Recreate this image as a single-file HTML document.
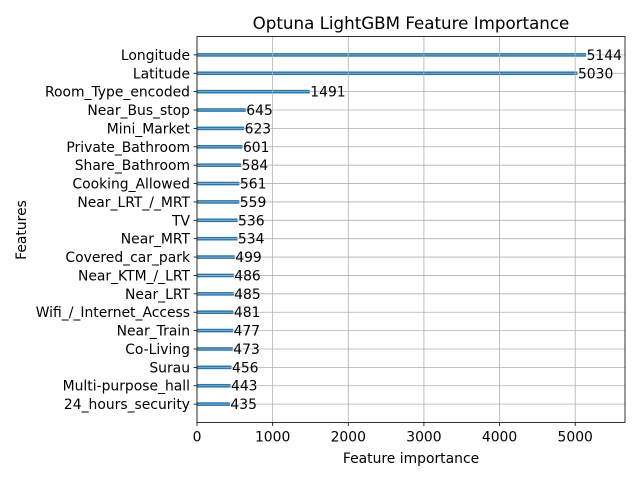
<!DOCTYPE html>
<html><head><meta charset="utf-8"><style>
body{margin:0;background:#fff;}
svg{font-family:"DejaVu Sans","Liberation Sans",sans-serif;}
</style></head><body>
<svg id="chart" width="640" height="480" xmlns="http://www.w3.org/2000/svg"></svg>
<script>
const features=["Longitude","Latitude","Room_Type_encoded","Near_Bus_stop","Mini_Market","Private_Bathroom","Share_Bathroom","Cooking_Allowed","Near_LRT_/_MRT","TV","Near_MRT","Covered_car_park","Near_KTM_/_LRT","Near_LRT","Wifi_/_Internet_Access","Near_Train","Co-Living","Surau","Multi-purpose_hall","24_hours_security"];
const importance=[5144,5030,1491,645,623,601,584,561,559,536,534,499,486,485,481,477,473,456,443,435];
const xTicks=[0,1000,2000,3000,4000,5000];
const NS="http://www.w3.org/2000/svg";
const svg=document.getElementById('chart');
const L=197,R=625,T=36.5,B=422.5;
const xmax=Math.max(...importance)*1.1;
const x=v=>L+v/xmax*(R-L);
const n=features.length;
const y=i=>T+(i+1)/(n+1)*(B-T);
const FS=13.9;
function mk(tag,attrs,text){const e=document.createElementNS(NS,tag);for(const k in attrs)e.setAttribute(k,attrs[k]);if(text!==undefined)e.textContent=text;svg.appendChild(e);return e;}
importance.forEach((v,i)=>{
 const r=mk('rect',{x:L,y:y(i)-1.8,width:x(v)-L,height:3.6,fill:'#1f77b4'});
 
 
});
xTicks.forEach(t=>{const g=mk('line',{x1:x(t),x2:x(t),y1:T,y2:B,stroke:'#b0b0b0','stroke-width':0.8});
 
 });
features.forEach((f,i)=>{const g=mk('line',{x1:L,x2:R,y1:y(i),y2:y(i),stroke:'#b0b0b0','stroke-width':0.8});
 
 });
importance.forEach((v,i)=>{const t=mk('text',{x:x(v)+0.5,y:y(i)+5,'font-size':FS,fill:'#000'},String(v));
 
 });
const sp=mk('rect',{x:L,y:T,width:R-L,height:B-T,fill:'none',stroke:'#000','stroke-width':0.8});


features.forEach((f,i)=>{
 mk('line',{x1:L-3.5,x2:L,y1:y(i),y2:y(i),stroke:'#000','stroke-width':0.8});
 const t=mk('text',{x:L-7,y:y(i)+5,'font-size':FS,'text-anchor':'end'},f);
 
 
});
xTicks.forEach(v=>{
 mk('line',{x1:x(v),x2:x(v),y1:B,y2:B+3.5,stroke:'#000','stroke-width':0.8});
 const t=mk('text',{x:x(v),y:B+19,'font-size':FS,'text-anchor':'middle'},String(v));
 
 
});
</script>
<div style="position:absolute;left:0;top:0;width:640px;height:480px;pointer-events:none">
<svg width="640" height="480" style="font-family:'DejaVu Sans','Liberation Sans',sans-serif">
<text x="411" y="29" font-size="16.7" text-anchor="middle">Optuna LightGBM Feature Importance</text>
<text x="411" y="463" font-size="13.9" text-anchor="middle">Feature importance</text>
<text x="26" y="230" font-size="13.9" text-anchor="middle" transform="rotate(-90 26 230)">Features</text>
</svg></div>
</body></html>
